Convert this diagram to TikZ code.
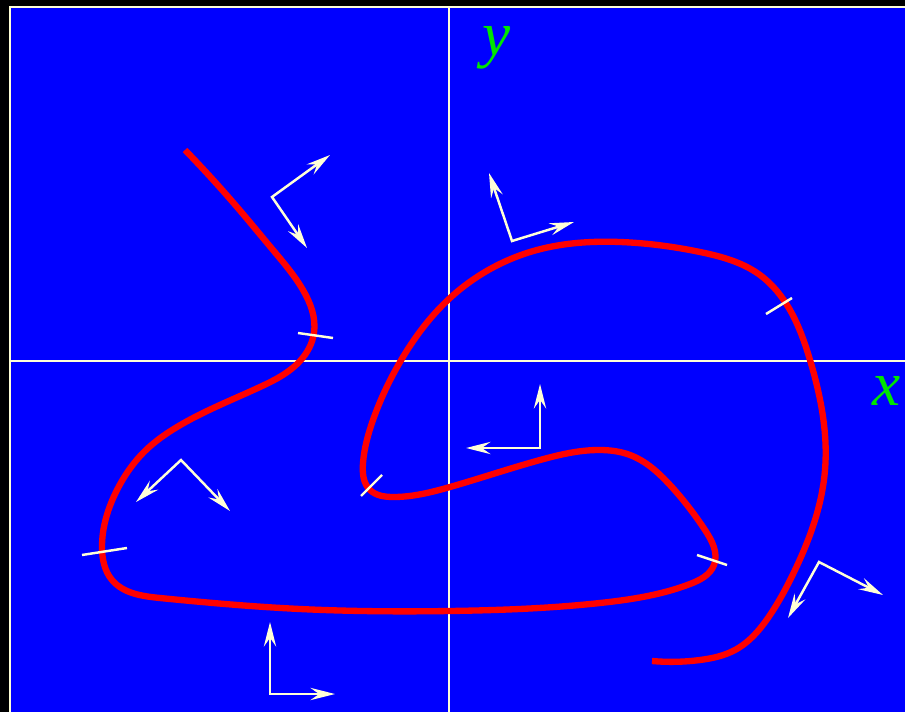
\documentclass[tikz,border=0pt]{standalone}
\usepackage{fontspec}
\setmainfont{Liberation Serif}
\usetikzlibrary{arrows.meta,hobby}
\definecolor{ivory}{RGB}{255,255,215}
\definecolor{planeblue}{RGB}{0,0,255}
\definecolor{labelgreen}{RGB}{0,230,0}
\tikzset{
  axis/.style={draw=ivory,line width=1.1pt},
  curve/.style={draw=red,line width=3.6pt,use Hobby shortcut},
  normal/.style={draw=ivory,line width=1.4pt},
  frame/.style={draw=ivory,line width=1.4pt,
    {Stealth[length=14pt,width=7pt,inset=5pt]}-{Stealth[length=14pt,width=7pt,inset=5pt]}},
  axlabel/.style={text=labelgreen,font=\fontsize{36}{40}\selectfont\itshape}
}

\begin{document}
\begin{tikzpicture}[x=0.02cm,y=-0.02cm]
  \useasboundingbox (0,0) rectangle (905,712);
  \fill[black] (0,0) rectangle (905,712);
  \clip (0,0) rectangle (905,712);
  \filldraw[fill=planeblue,draw=ivory,line width=1.2pt] (10,7) rectangle (930,740);

  % axes
  \draw[axis] (449,7) -- (449,712);
  \draw[axis] (10,361) -- (905,361);
  \node[axlabel] (ylabel) at (497,48) {y};
  \node[axlabel] (xlabel) at (887,391) {x};

  % the curve
  \draw[curve] (185,150) .. (237,207) .. (273,250) .. (303,290) .. (314,333)
    .. (300,361) .. (260,387) .. (177,427) .. (145,451) .. (117,490)
    .. (102,547) .. (112,580) .. (160,598) .. (300,609) .. (450,611)
    .. (600,603) .. (690,584) .. (714,565) .. (705,530) .. (670,485)
    .. (630,455) .. (600,450) .. (540,460) .. (450,487) .. (393,497)
    .. (370,490) .. (363,463) .. (373,420) .. (400,362) .. (450,298)
    .. (537,250) .. (620,242) .. (700,252) .. (760,275) .. (790,310)
    .. (810,360) .. (825,470) .. (815,520) .. (795,570) .. (770,615)
    .. (735,650) .. (700,660) .. (652,661);

  % normals on the curve
  \draw[normal] (298,333) -- (333,338);
  \draw[normal] (766,314) -- (792,298);
  \draw[normal] (82,555) -- (127,548);
  \draw[normal] (361,496) -- (382,475);
  \draw[normal] (697,555) -- (727,565);

  % frames
  \draw[frame] (330,155) -- (272,197) -- (307,248);
  \draw[frame] (489,173) -- (512,241) -- (574,222);
  \draw[frame] (540,384) -- (540,448) -- (466,448);
  \draw[frame] (136,502) -- (181,460) -- (230,511);
  \draw[frame] (788,618) -- (819,562) -- (883,595);
  \draw[frame] (270,622) -- (270,694) -- (335,694);
\end{tikzpicture}
\end{document}
